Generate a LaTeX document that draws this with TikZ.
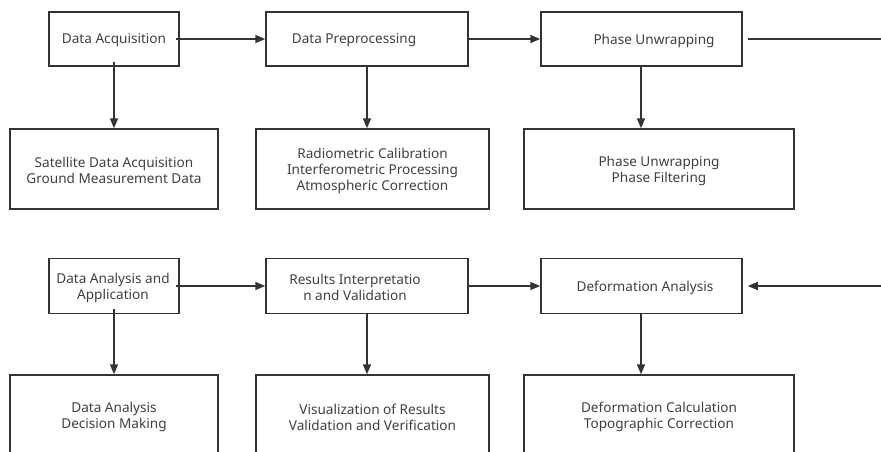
\documentclass[tikz,border=0pt]{standalone}
\usepackage{fontspec}
\setmainfont{Noto Sans}
\usetikzlibrary{arrows.meta}
\definecolor{ln}{HTML}{333333}
\definecolor{tx}{HTML}{404040}
\begin{document}
\begin{tikzpicture}[x=1pt,y=-1pt,
  box/.style={draw=ln,line width=1.5pt,inner sep=0pt,fill=white},
  txt/.style={text=tx,font=\fontsize{13.6}{16}\selectfont,align=center,inner sep=0pt,yshift=-1.5pt},
  arr/.style={draw=ln,line width=1.5pt,-{Triangle[length=10pt,width=8pt]}},
  ln/.style={draw=ln,line width=1.5pt}]
\useasboundingbox (0,0) rectangle (881,451);
\clip (0,0) rectangle (881,451);
\fill[white] (0,0) rectangle (881,451);
% top row
\node[box,minimum width=130pt,minimum height=54pt] (A) at (114,39) {};
\node[box,minimum width=202pt,minimum height=54pt] (B) at (367,39) {};
\node[box,minimum width=201pt,minimum height=54pt] (C) at (641.5,39) {};
\node[txt] (At) at (114,39) {Data Acquisition};
\node[txt] (Bt) at (354,39) {Data Preprocessing};
\node[txt] (Ct) at (654,39) {Phase Unwrapping};
% second row
\node[box,minimum width=208pt,minimum height=80pt] (A2) at (114,169) {};
\node[box,minimum width=233pt,minimum height=80pt] (B2) at (372.5,169) {};
\node[box,minimum width=270pt,minimum height=80pt] (C2) at (659,169) {};
\node[txt] (A2t) at (114,169) {Satellite Data Acquisition\\Ground Measurement Data};
\node[txt] (B2t) at (372.5,169) {Radiometric Calibration\\Interferometric Processing\\Atmospheric Correction};
\node[txt] (C2t) at (659,169) {Phase Unwrapping\\Phase Filtering};
% third row
\node[box,minimum width=130pt,minimum height=55pt] (D) at (114,286) {};
\node[box,minimum width=202pt,minimum height=55pt] (E) at (367,286) {};
\node[box,minimum width=201pt,minimum height=55pt] (F) at (641.5,286) {};
\node[txt] (Dt) at (113,286) {Data Analysis and\\Application};
\node[txt] (Et) at (355,286) {Results Interpretatio\\n and Validation};
\node[txt] (Ft) at (645,286) {Deformation Analysis};
% fourth row
\node[box,minimum width=208pt,minimum height=81pt] (D2) at (114,415.5) {};
\node[box,minimum width=233pt,minimum height=81pt] (E2) at (372.5,415.5) {};
\node[box,minimum width=270pt,minimum height=81pt] (F2) at (659,415.5) {};
\node[txt] (D2t) at (114,415.5) {Data Analysis\\Decision Making};
\node[txt] (E2t) at (372.5,415.5) {Visualization of Results\\Validation and Verification};
\node[txt] (F2t) at (659,415.5) {Deformation Calculation\\Topographic Correction};
% connectors
\coordinate (Cout) at (881,39);
\coordinate (Fin) at (881,286);
\draw[arr] ([xshift=-4pt]A.east) -- (B.west);
\draw[arr] (B.east) -- (C.west);
\draw[ln] ([xshift=5pt]C.east) -- (Cout);
\draw[arr] ([yshift=5pt]A.south) -- (A2.north);
\draw[arr] (B.south) -- (B.south |- B2.north);
\draw[arr] ([xshift=-0.5pt]C.south) -- ([xshift=-0.5pt]C.south |- C2.north);
\draw[arr] ([xshift=-4pt]D.east) -- (E.west);
\draw[arr] (E.east) -- (F.west);
\draw[arr] (Fin) -- ([xshift=5pt]F.east);
\draw[arr] ([yshift=5pt]D.south) -- (D2.north);
\draw[arr] (E.south) -- (E.south |- E2.north);
\draw[arr] ([xshift=-0.5pt]F.south) -- ([xshift=-0.5pt]F.south |- F2.north);
\end{tikzpicture}
\end{document}
